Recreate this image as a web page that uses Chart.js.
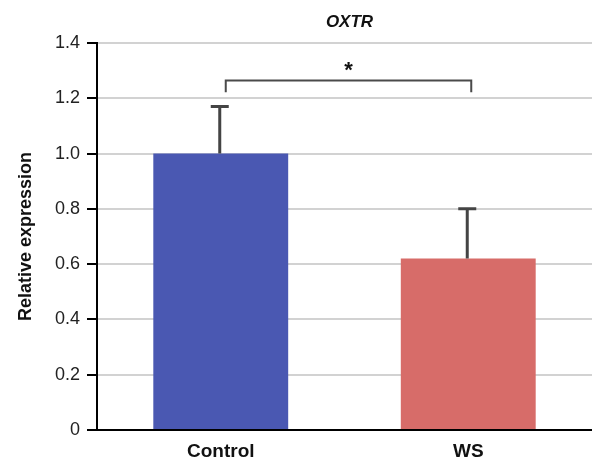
<!DOCTYPE html>
<html>
<head>
<meta charset="utf-8">
<script src="https://cdn.jsdelivr.net/npm/chart.js@4"></script>
<style>
  html, body { margin: 0; padding: 0; background: #fff; }
  #wrap { width: 592px; height: 460px; }
</style>
</head>
<body>
<div id="wrap"><canvas id="oxtr-graph" width="592" height="460"></canvas></div>
<script>
const chartTitle = 'OXTR';
const categories = ['Control', 'WS'];
const means = [1.0, 0.62];
const errors = [0.17, 0.18];
const barColors = ['#4a58b2', '#d76c69'];
const yTicks = [0, 0.2, 0.4, 0.6, 0.8, 1.0, 1.2, 1.4];
// significance bracket: [from index, to index, top value, leg bottom value, label]
const bracket = [0, 1, 1.264, 1.222, '*'];

const FONT = '"Liberation Sans", Arial, sans-serif';

const extras = {
    id: 'extras',
    afterDatasetsDraw(chart) {
        const ctx = chart.ctx;
        const x = chart.scales.x, y = chart.scales.y;
        ctx.save();
        ctx.strokeStyle = '#444';
        ctx.lineWidth = 3;
        means.forEach((m, i) => {
            const px = x.getPixelForValue(i) - 1;
            const top = y.getPixelForValue(m + errors[i]);
            ctx.beginPath();
            ctx.moveTo(px, y.getPixelForValue(m));
            ctx.lineTo(px, top);
            ctx.moveTo(px - 9, top);
            ctx.lineTo(px + 9, top);
            ctx.stroke();
        });
        // bracket
        const x1 = x.getPixelForValue(bracket[0]) + 5;
        const x2 = x.getPixelForValue(bracket[1]) + 3;
        const yt = y.getPixelForValue(bracket[2]);
        const yb = y.getPixelForValue(bracket[3]);
        ctx.lineWidth = 2;
        ctx.strokeStyle = '#4a4a4a';
        ctx.beginPath();
        ctx.moveTo(x1, yb);
        ctx.lineTo(x1, yt);
        ctx.lineTo(x2, yt);
        ctx.lineTo(x2, yb);
        ctx.stroke();
        ctx.fillStyle = '#111';
        ctx.font = 'bold 22px ' + FONT;
        ctx.textAlign = 'center';
        ctx.textBaseline = 'alphabetic';
        ctx.fillText(bracket[4], (x1 + x2) / 2, yt - 4);

        // title
        const area = chart.chartArea;
        ctx.font = 'italic bold 17px ' + FONT;
        ctx.fillText(chartTitle, (area.left + area.right) / 2 + 5, 27);
        ctx.restore();
    }
};

new Chart(document.getElementById('oxtr-graph'), {
    type: 'bar',
    data: {
        labels: categories,
        datasets: [{
            data: means,
            backgroundColor: barColors,
            borderWidth: 0,
            barPercentage: 0.545,
            categoryPercentage: 1.0
        }]
    },
    options: {
        responsive: false,
        animation: false,
        layout: { padding: { top: 43, right: 0, left: 0, bottom: 0 } },
        plugins: {
            legend: { display: false },
            tooltip: { enabled: false }
        },
        scales: {
            x: {
                grid: { display: false, drawTicks: false },
                border: { color: '#000', width: 2 },
                afterFit(scale) { scale.height = 30; },
                ticks: {
                    color: '#111',
                    padding: 10,
                    font: { family: FONT, size: 19, weight: 'bold' }
                }
            },
            y: {
                min: 0,
                max: 1.4,
                afterBuildTicks(scale) {
                    scale.ticks = yTicks.map(v => ({ value: v }));
                },
                afterFit(scale) { scale.width = 97; },
                grid: { color: '#d2d2d2', lineWidth: 2, tickColor: '#000', tickLength: 10 },
                border: { color: '#000', width: 2 },
                ticks: {
                    color: '#222',
                    padding: 7,
                    font: { family: FONT, size: 18 },
                    callback: v => v === 0 ? '0' : v.toFixed(1)
                },
                title: {
                    display: true,
                    text: 'Relative expression',
                    color: '#111',
                    padding: { top: 15, bottom: 0 },
                    font: { family: FONT, size: 18, weight: 'bold' }
                }
            }
        }
    },
    plugins: [extras]
});
</script>
</body>
</html>
